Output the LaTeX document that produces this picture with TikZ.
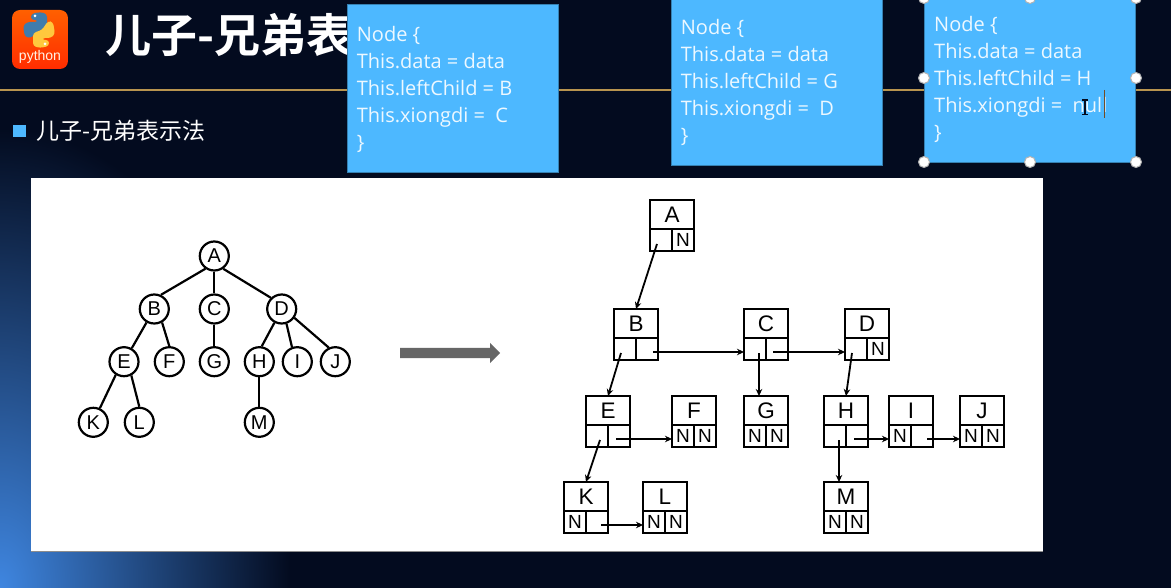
\documentclass[tikz,border=0pt]{standalone}
\usepackage{fontspec}
\usepackage{tikz}
\usetikzlibrary{shapes.arrows,arrows.meta}
\setmainfont{Liberation Sans}
\newfontfamily\cjk{Noto Sans CJK SC}
\newfontfamily\cjkbold[BoldFont={Noto Sans CJK SC Bold}]{Noto Sans CJK SC}
\newfontfamily\notefont{Open Sans}
\definecolor{slidebg}{HTML}{030B1F}
\definecolor{glowblue}{HTML}{3F86E0}
\definecolor{notefill}{HTML}{4DB8FF}
\definecolor{rulegold}{HTML}{B8944F}
\definecolor{snakeblue}{HTML}{3F7CAC}
\definecolor{snakeyellow}{HTML}{FFC83D}

\begin{document}
\begin{tikzpicture}[
        x=1pt, y=-1pt,
        treenode/.style={circle, draw, line width=2.2pt, fill=white, minimum size=29pt, inner sep=0pt, font=\fontsize{20}{20}\selectfont},
        treeline/.style={line width=2.2pt},
        headcell/.style={rectangle, draw, line width=2.3pt, minimum width=44pt, minimum height=29pt, inner sep=0pt, outer sep=0pt, font=\fontsize{22.5}{22.5}\selectfont},
        ptrcell/.style={rectangle, draw, line width=2.3pt, minimum width=22pt, minimum height=22pt, inner sep=0pt, outer sep=0pt, font=\fontsize{19}{19}\selectfont},
        link/.style={-{Stealth[length=7pt,width=6.5pt]}, line width=1.8pt},
        note/.style={rectangle, draw=notefill!70!black, line width=1pt, fill=notefill, minimum width=211pt, anchor=north west},
        notetext/.style={anchor=base west, inner sep=0pt, text=white!90!notefill, font=\notefont\fontsize{20}{20}\selectfont},
        handle/.style={circle, draw=gray!60, line width=1pt, fill=white, minimum size=11pt, inner sep=0pt}
    ]
        \useasboundingbox (0,0) rectangle (1171,588);
        \clip (0,0) rectangle (1171,588);
        % Slide
        \fill[slidebg] (0,0) rectangle (1171,588);
        \shade[inner color=glowblue, outer color=slidebg] (0,588) ellipse (290 and 460);
        \fill[rulegold] (0,89) rectangle (1171,91.5);
        \fill[white] (31,178) rectangle (1043,551);
        \draw[black!45, line width=0.8pt] (31,551) -- (1043,551);

        % Logo
        \shade[top color=orange!75!red, bottom color=red!65!orange, rounded corners=8pt] (12,10) rectangle (68,69);
        \fill[snakeblue, rounded corners=3pt] (40,12) -- (47,14) -- (47,28) -- (38,31) -- (31,38) -- (25,37) -- (23,26) -- (27,22) -- (38,22) -- (38,20) -- (31,20) -- (31,14) -- cycle;
        \fill[snakeyellow, rounded corners=3pt] (40,48) -- (33,46) -- (33,33) -- (42,30) -- (48,21) -- (53,22) -- (55,34) -- (51,38) -- (42,38) -- (42,40) -- (49,40) -- (49,46) -- cycle;
        \fill[white] (35,16) circle (1.5);
        \fill[white] (45,44) circle (1.5);
        \node[text=white!90!orange, inner sep=0pt, font=\fontsize{14}{14}\selectfont] (logotext) at (40,57) {python};

        % Title
        \node[anchor=west, inner sep=0pt, text=white, font=\cjkbold\bfseries\fontsize{46}{46}\selectfont] (title) at (105,35) {儿子-兄弟表};
        \fill[notefill] (13,125) rectangle (26,137);
        \node[anchor=west, inner sep=0pt, text=white, font=\cjk\fontsize{23}{23}\selectfont] (subtitle) at (36,131) {儿子-兄弟表示法};

        % Notes
        \node[note, minimum height=168pt] (note-1) at (347,4) {};
        \node[note, minimum height=166pt] (note-2) at (671,-1) {};
        \node[note, minimum height=165pt] (note-3) at (924,-3) {};
        \foreach \n/\x/\y/\l/\s in {1/356.7/41.3/B/C, 2/680.7/34.5/G/D, 3/934/31.5/H/null} {
            \node[notetext] at (\x,\y) {Node \{};
            \node[notetext] at (\x,\y+27) {This.data = data};
            \node[notetext] at (\x,\y+54) {This.leftChild = \l};
            \node[notetext] at (\x,\y+81) {This.xiongdi =\ \ \s};
            \node[notetext] at (\x,\y+108) {\}};
        }
        \foreach \i/\x/\y in {a/924/-2,b/1030/-2,c/1136/-2,d/924/78,e/1136/78,f/924/162,g/1030/162,h/1136/162}
            \node[handle] (handle-\i) at (\x,\y) {};
        \draw[slidebg, line width=1.2pt] (1082,100) -- (1088,100) (1085,100) -- (1085,114.5) (1082,114.5) -- (1088,114.5);
        \draw[black!40!brown, line width=1pt] (1104.7,90) -- (1104.7,118);

        % Tree
        \foreach \n/\x/\y in {A/214.3/256,B/154.3/309,C/214.3/309,D/281.7/309,E/124/361.7,F/169.3/361.7,G/214.3/361.7,H/259.3/361.7,I/297.3/361.7,J/335.3/361.7,K/93.3/422.3,L/139.3/422.3,M/259.3/422.3}
            \node[treenode] (t-\n) at (\x,\y) {\n};
        \foreach \a/\b/\s/\t in {A/B/-125/65,A/C/-90/90,A/D/-55/134,B/E/-120/60,B/F/-60/90,C/G/-90/90,D/H/-118/81,D/I/-72/110,D/J/-35/115,E/K/-122/65,E/L/-62/90,H/M/-90/90}
            \draw[treeline] (t-\a.\s) -- (t-\b.\t);

        % Arrow
        \node[single arrow, fill=black!60, draw=none, minimum height=100pt, inner xsep=0pt, inner ysep=5pt, single arrow head extend=5pt, single arrow head indent=0pt, anchor=tail] (turn) at (400,353) {};

        % Boxes
        \foreach \n/\x/\y/\l/\r in {A/672/200/ /N,B/636/309/ / ,C/766/309/ / ,D/867/309/ /N,E/608/396/ / ,F/694/396/N/N,G/766/396/N/N,H/846/396/ / ,I/911/396/N/ ,J/982/396/N/N,K/586/482/N/ ,L/665/482/N/N,M/846/482/N/N} {
            \node[headcell, anchor=north] (\n) at (\x,\y) {\n};
            \node[ptrcell, anchor=north east] (\n-l) at (\n.south) {\l};
            \node[ptrcell, anchor=north west] (\n-r) at (\n.south) {\r};
        }

        % Child links
        \foreach \a/\b/\s in {A/B/-4,B/E/-4,D/H/-4,E/K/3}
            \draw[link] ([xshift=\s pt,yshift=-4pt]\a-l.center) -- (\b.north);
        \draw[link] ([xshift=4pt,yshift=-4pt]C-l.center) -- ([xshift=-7pt]G.north);
        \draw[link] ([xshift=4pt,yshift=-4pt]H-l.center) -- ([xshift=-7pt]M.north);

        % Sibling links
        \foreach \a/\b/\s in {B/C/6,C/D/-4,E/F/-3,H/I/-3,I/J/5,K/L/4}
            \draw[link] ([xshift=\s pt,yshift=-3pt]\a-r.center) -- ([yshift=-3pt]\b-l.west);
    \end{tikzpicture}
\end{document}
